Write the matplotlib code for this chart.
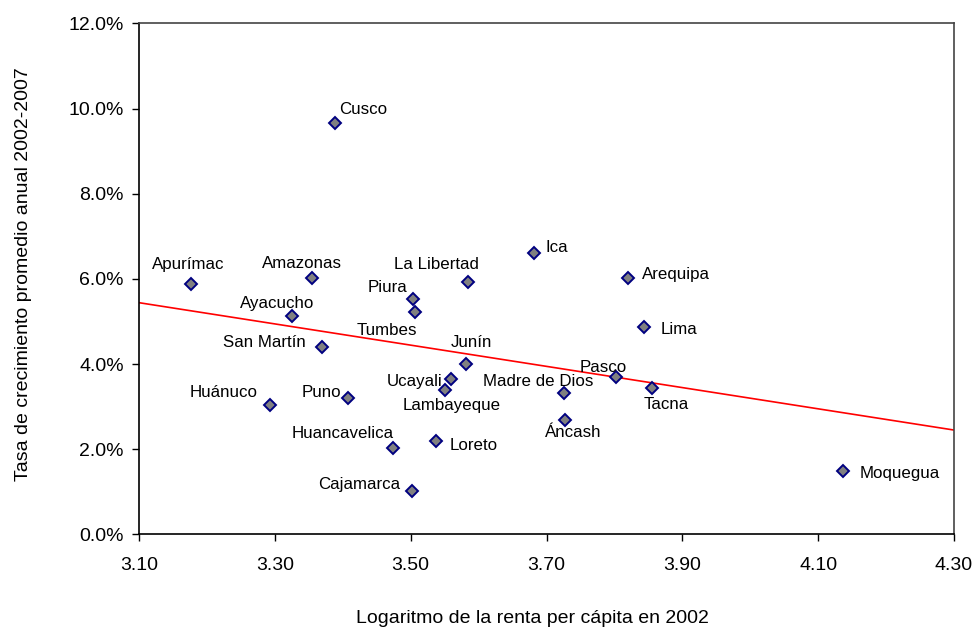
import numpy as np
import matplotlib
matplotlib.use("Agg")
import matplotlib.pyplot as plt
from matplotlib.ticker import PercentFormatter, MultipleLocator

# datos
regiones = ["Apurímac", "Cusco", "Amazonas", "Ayacucho", "San Martín", "Huánuco",
            "Puno", "Huancavelica", "Cajamarca", "Piura", "Tumbes", "La Libertad",
            "Junín", "Ucayali", "Lambayeque", "Loreto", "Ica", "Madre de Dios",
            "Áncash", "Arequipa", "Lima", "Pasco", "Tacna", "Moquegua"]
log_renta = [3.177, 3.389, 3.355, 3.325, 3.370, 3.293,
             3.408, 3.474, 3.502, 3.504, 3.507, 3.584,
             3.581, 3.559, 3.551, 3.537, 3.682, 3.726,
             3.727, 3.820, 3.844, 3.803, 3.855, 4.136]
crecimiento = [5.89, 9.66, 6.02, 5.14, 4.39, 3.03,
               3.20, 2.02, 1.01, 5.53, 5.23, 5.93,
               4.00, 3.64, 3.38, 2.20, 6.60, 3.33,
               2.68, 6.02, 4.87, 3.70, 3.43, 1.49]
ticks_x = [3.10, 3.30, 3.50, 3.70, 3.90, 4.10, 4.30]

# posición de cada etiqueta respecto a su punto (pixeles, alineación)
etiquetas = {
    "Apurímac": (-3, 15, "center"), "Cusco": (4, 9, "left"),
    "Amazonas": (-10, 10, "center"), "Ayacucho": (-15, 8, "center"),
    "San Martín": (-17, 0, "right"), "Huánuco": (-12, 8, "right"),
    "Puno": (-7, 1, "right"), "Huancavelica": (1, 10, "right"),
    "Cajamarca": (-12, 2, "right"), "Piura": (-6, 7, "right"),
    "Tumbes": (2, -23, "right"), "La Libertad": (11, 13, "right"),
    "Junín": (6, 17, "center"), "Ucayali": (-8, -7, "right"),
    "Lambayeque": (6, -20, "center"), "Loreto": (14, -9, "left"),
    "Ica": (11, 1, "left"), "Madre de Dios": (29, 7, "right"),
    "Áncash": (8, -17, "center"), "Arequipa": (14, -1, "left"),
    "Lima": (16, -7, "left"), "Pasco": (-13, 5, "center"),
    "Tacna": (14, -21, "center"), "Moquegua": (17, -7, "left"),
}

plt.rcParams["font.family"] = ["Liberation Sans", "DejaVu Sans"]

fig = plt.figure(figsize=(9.76, 6.28), dpi=100)
ax = fig.add_axes([0.1424, 0.1492, 0.8351, 0.8134])

x = np.array(log_renta)
y = np.array(crecimiento)

# recta de tendencia
m, b = np.polyfit(x, y, 1)
xs = np.array([3.10, 4.30])
ax.plot(xs, m * xs + b, color="#ff0000", lw=1.2, zorder=2)

ax.plot(x, y, "D", ms=6.5, mfc="#808080", mec="#000080", mew=1.4,
        zorder=3, clip_on=False)

for nom, xi, yi in zip(regiones, x, y):
    dx, dy, ha = etiquetas[nom]
    ax.annotate(nom, (xi, yi), xytext=(dx, dy), textcoords="offset pixels",
                ha=ha, va="baseline", fontsize=12.2)

ax.set_xlim(3.10, 4.30)
ax.set_ylim(0, 12)
ax.set_xticks(ticks_x)
ax.yaxis.set_major_locator(MultipleLocator(2))
ax.xaxis.set_major_formatter(lambda v, p: f"{v:.2f}")
ax.yaxis.set_major_formatter(PercentFormatter(decimals=1))
ax.tick_params(axis="x", direction="out", length=5, width=1, pad=11,
               labelsize=14)
ax.tick_params(axis="y", direction="out", length=5, width=1, pad=6,
               labelsize=14)

for lado in ["left", "bottom"]:
    ax.spines[lado].set_color("black")
    ax.spines[lado].set_linewidth(1.2)
for lado in ["top", "right"]:
    ax.spines[lado].set_color("#444444")
    ax.spines[lado].set_linewidth(1.2)

ax.set_xlabel("Logaritmo de la renta per cápita en 2002", fontsize=14,
              va="top")
ax.xaxis.set_label_coords(0.483, -0.148)
ax.set_ylabel("Tasa de crecimiento promedio anual 2002-2007", fontsize=14,
              va="center")
ax.yaxis.set_label_coords(-0.1417, 0.5096)

fig.savefig("out.png", dpi=100)
